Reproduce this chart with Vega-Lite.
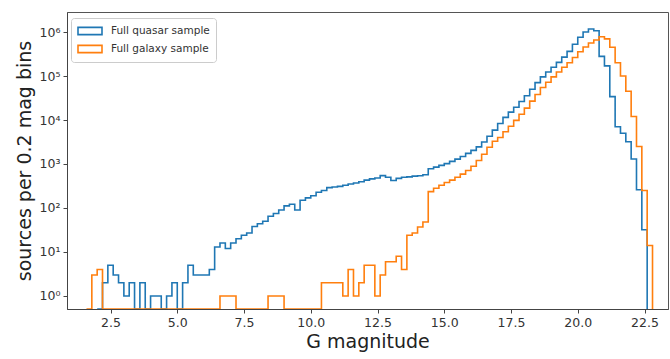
{
  "$schema": "https://vega.github.io/schema/vega-lite/v6.json",
  "width": 601,
  "height": 297,
  "autosize": {"type": "none"},
  "padding": {"left": 67, "top": 12, "right": 2, "bottom": 50},
  "config": {
    "font": "DejaVu Sans",
    "view": {"stroke": "#555", "strokeWidth": 1},
    "axis": {"grid": false, "domainColor": "#444", "tickColor": "#444", "labelColor": "#333", "titleColor": "#222", "titleFontWeight": "normal", "tickSize": 4, "labelFontSize": 12.5, "titleFontSize": 19}
  },
  "data": {"values": [
    {"series": "Full quasar sample", "g": 2.0, "n": 0},
    {"series": "Full quasar sample", "g": 2.2, "n": 2},
    {"series": "Full quasar sample", "g": 2.4, "n": 5},
    {"series": "Full quasar sample", "g": 2.6, "n": 3},
    {"series": "Full quasar sample", "g": 2.8, "n": 2},
    {"series": "Full quasar sample", "g": 3.0, "n": 1},
    {"series": "Full quasar sample", "g": 3.2, "n": 2},
    {"series": "Full quasar sample", "g": 3.4, "n": 0},
    {"series": "Full quasar sample", "g": 3.6, "n": 2},
    {"series": "Full quasar sample", "g": 3.8, "n": 0},
    {"series": "Full quasar sample", "g": 4.0, "n": 1},
    {"series": "Full quasar sample", "g": 4.2, "n": 1},
    {"series": "Full quasar sample", "g": 4.4, "n": 0},
    {"series": "Full quasar sample", "g": 4.6, "n": 1},
    {"series": "Full quasar sample", "g": 4.8, "n": 2},
    {"series": "Full quasar sample", "g": 5.0, "n": 0},
    {"series": "Full quasar sample", "g": 5.2, "n": 2},
    {"series": "Full quasar sample", "g": 5.4, "n": 5},
    {"series": "Full quasar sample", "g": 5.6, "n": 3},
    {"series": "Full quasar sample", "g": 5.8, "n": 3},
    {"series": "Full quasar sample", "g": 6.0, "n": 3},
    {"series": "Full quasar sample", "g": 6.2, "n": 4},
    {"series": "Full quasar sample", "g": 6.4, "n": 13},
    {"series": "Full quasar sample", "g": 6.6, "n": 16},
    {"series": "Full quasar sample", "g": 6.8, "n": 12},
    {"series": "Full quasar sample", "g": 7.0, "n": 16},
    {"series": "Full quasar sample", "g": 7.2, "n": 20},
    {"series": "Full quasar sample", "g": 7.4, "n": 24},
    {"series": "Full quasar sample", "g": 7.6, "n": 27},
    {"series": "Full quasar sample", "g": 7.8, "n": 38},
    {"series": "Full quasar sample", "g": 8.0, "n": 44},
    {"series": "Full quasar sample", "g": 8.2, "n": 50},
    {"series": "Full quasar sample", "g": 8.4, "n": 65},
    {"series": "Full quasar sample", "g": 8.6, "n": 75},
    {"series": "Full quasar sample", "g": 8.8, "n": 90},
    {"series": "Full quasar sample", "g": 9.0, "n": 112},
    {"series": "Full quasar sample", "g": 9.2, "n": 122},
    {"series": "Full quasar sample", "g": 9.4, "n": 90},
    {"series": "Full quasar sample", "g": 9.6, "n": 150},
    {"series": "Full quasar sample", "g": 9.8, "n": 170},
    {"series": "Full quasar sample", "g": 10.0, "n": 190},
    {"series": "Full quasar sample", "g": 10.2, "n": 228},
    {"series": "Full quasar sample", "g": 10.4, "n": 250},
    {"series": "Full quasar sample", "g": 10.6, "n": 290},
    {"series": "Full quasar sample", "g": 10.8, "n": 300},
    {"series": "Full quasar sample", "g": 11.0, "n": 310},
    {"series": "Full quasar sample", "g": 11.2, "n": 330},
    {"series": "Full quasar sample", "g": 11.4, "n": 350},
    {"series": "Full quasar sample", "g": 11.6, "n": 370},
    {"series": "Full quasar sample", "g": 11.8, "n": 395},
    {"series": "Full quasar sample", "g": 12.0, "n": 430},
    {"series": "Full quasar sample", "g": 12.2, "n": 460},
    {"series": "Full quasar sample", "g": 12.4, "n": 480},
    {"series": "Full quasar sample", "g": 12.6, "n": 545},
    {"series": "Full quasar sample", "g": 12.8, "n": 500},
    {"series": "Full quasar sample", "g": 13.0, "n": 420},
    {"series": "Full quasar sample", "g": 13.2, "n": 470},
    {"series": "Full quasar sample", "g": 13.4, "n": 500},
    {"series": "Full quasar sample", "g": 13.6, "n": 510},
    {"series": "Full quasar sample", "g": 13.8, "n": 530},
    {"series": "Full quasar sample", "g": 14.0, "n": 540},
    {"series": "Full quasar sample", "g": 14.2, "n": 570},
    {"series": "Full quasar sample", "g": 14.4, "n": 780},
    {"series": "Full quasar sample", "g": 14.6, "n": 850},
    {"series": "Full quasar sample", "g": 14.8, "n": 930},
    {"series": "Full quasar sample", "g": 15.0, "n": 1020},
    {"series": "Full quasar sample", "g": 15.2, "n": 1150},
    {"series": "Full quasar sample", "g": 15.4, "n": 1290},
    {"series": "Full quasar sample", "g": 15.6, "n": 1480},
    {"series": "Full quasar sample", "g": 15.8, "n": 1740},
    {"series": "Full quasar sample", "g": 16.0, "n": 2040},
    {"series": "Full quasar sample", "g": 16.2, "n": 2450},
    {"series": "Full quasar sample", "g": 16.4, "n": 3160},
    {"series": "Full quasar sample", "g": 16.6, "n": 4270},
    {"series": "Full quasar sample", "g": 16.8, "n": 5890},
    {"series": "Full quasar sample", "g": 17.0, "n": 8300},
    {"series": "Full quasar sample", "g": 17.2, "n": 11500},
    {"series": "Full quasar sample", "g": 17.4, "n": 15100},
    {"series": "Full quasar sample", "g": 17.6, "n": 19500},
    {"series": "Full quasar sample", "g": 17.8, "n": 26300},
    {"series": "Full quasar sample", "g": 18.0, "n": 35500},
    {"series": "Full quasar sample", "g": 18.2, "n": 50100},
    {"series": "Full quasar sample", "g": 18.4, "n": 70800},
    {"series": "Full quasar sample", "g": 18.6, "n": 95500},
    {"series": "Full quasar sample", "g": 18.8, "n": 123000},
    {"series": "Full quasar sample", "g": 19.0, "n": 158000},
    {"series": "Full quasar sample", "g": 19.2, "n": 204000},
    {"series": "Full quasar sample", "g": 19.4, "n": 269000},
    {"series": "Full quasar sample", "g": 19.6, "n": 363000},
    {"series": "Full quasar sample", "g": 19.8, "n": 525000},
    {"series": "Full quasar sample", "g": 20.0, "n": 759000},
    {"series": "Full quasar sample", "g": 20.2, "n": 1000000},
    {"series": "Full quasar sample", "g": 20.4, "n": 1175000},
    {"series": "Full quasar sample", "g": 20.6, "n": 1070000},
    {"series": "Full quasar sample", "g": 20.8, "n": 280000},
    {"series": "Full quasar sample", "g": 21.0, "n": 170000},
    {"series": "Full quasar sample", "g": 21.2, "n": 34000},
    {"series": "Full quasar sample", "g": 21.4, "n": 7000},
    {"series": "Full quasar sample", "g": 21.6, "n": 5000},
    {"series": "Full quasar sample", "g": 21.8, "n": 3200},
    {"series": "Full quasar sample", "g": 22.0, "n": 1300},
    {"series": "Full quasar sample", "g": 22.2, "n": 260},
    {"series": "Full quasar sample", "g": 22.4, "n": 32},
    {"series": "Full quasar sample", "g": 22.6, "n": 0},
    {"series": "Full galaxy sample", "g": 1.6, "n": 0},
    {"series": "Full galaxy sample", "g": 1.8, "n": 3},
    {"series": "Full galaxy sample", "g": 2.0, "n": 4},
    {"series": "Full galaxy sample", "g": 2.2, "n": 0},
    {"series": "Full galaxy sample", "g": 2.4, "n": 0},
    {"series": "Full galaxy sample", "g": 2.6, "n": 0},
    {"series": "Full galaxy sample", "g": 2.8, "n": 0},
    {"series": "Full galaxy sample", "g": 3.0, "n": 0},
    {"series": "Full galaxy sample", "g": 3.2, "n": 0},
    {"series": "Full galaxy sample", "g": 3.4, "n": 0},
    {"series": "Full galaxy sample", "g": 3.6, "n": 0},
    {"series": "Full galaxy sample", "g": 3.8, "n": 0},
    {"series": "Full galaxy sample", "g": 4.0, "n": 0},
    {"series": "Full galaxy sample", "g": 4.2, "n": 0},
    {"series": "Full galaxy sample", "g": 4.4, "n": 0},
    {"series": "Full galaxy sample", "g": 4.6, "n": 0},
    {"series": "Full galaxy sample", "g": 4.8, "n": 0},
    {"series": "Full galaxy sample", "g": 5.0, "n": 0},
    {"series": "Full galaxy sample", "g": 5.2, "n": 0},
    {"series": "Full galaxy sample", "g": 5.4, "n": 0},
    {"series": "Full galaxy sample", "g": 5.6, "n": 0},
    {"series": "Full galaxy sample", "g": 5.8, "n": 0},
    {"series": "Full galaxy sample", "g": 6.0, "n": 0},
    {"series": "Full galaxy sample", "g": 6.2, "n": 0},
    {"series": "Full galaxy sample", "g": 6.4, "n": 0},
    {"series": "Full galaxy sample", "g": 6.6, "n": 1},
    {"series": "Full galaxy sample", "g": 6.8, "n": 1},
    {"series": "Full galaxy sample", "g": 7.0, "n": 1},
    {"series": "Full galaxy sample", "g": 7.2, "n": 0},
    {"series": "Full galaxy sample", "g": 7.4, "n": 0},
    {"series": "Full galaxy sample", "g": 7.6, "n": 0},
    {"series": "Full galaxy sample", "g": 7.8, "n": 0},
    {"series": "Full galaxy sample", "g": 8.0, "n": 0},
    {"series": "Full galaxy sample", "g": 8.2, "n": 0},
    {"series": "Full galaxy sample", "g": 8.4, "n": 1},
    {"series": "Full galaxy sample", "g": 8.6, "n": 1},
    {"series": "Full galaxy sample", "g": 8.8, "n": 1},
    {"series": "Full galaxy sample", "g": 9.0, "n": 0},
    {"series": "Full galaxy sample", "g": 9.2, "n": 0},
    {"series": "Full galaxy sample", "g": 9.4, "n": 0},
    {"series": "Full galaxy sample", "g": 9.6, "n": 0},
    {"series": "Full galaxy sample", "g": 9.8, "n": 0},
    {"series": "Full galaxy sample", "g": 10.0, "n": 0},
    {"series": "Full galaxy sample", "g": 10.2, "n": 0},
    {"series": "Full galaxy sample", "g": 10.4, "n": 2},
    {"series": "Full galaxy sample", "g": 10.6, "n": 2},
    {"series": "Full galaxy sample", "g": 10.8, "n": 2},
    {"series": "Full galaxy sample", "g": 11.0, "n": 2},
    {"series": "Full galaxy sample", "g": 11.2, "n": 1},
    {"series": "Full galaxy sample", "g": 11.4, "n": 4},
    {"series": "Full galaxy sample", "g": 11.6, "n": 1},
    {"series": "Full galaxy sample", "g": 11.8, "n": 2},
    {"series": "Full galaxy sample", "g": 12.0, "n": 5},
    {"series": "Full galaxy sample", "g": 12.2, "n": 5},
    {"series": "Full galaxy sample", "g": 12.4, "n": 1},
    {"series": "Full galaxy sample", "g": 12.6, "n": 3},
    {"series": "Full galaxy sample", "g": 12.8, "n": 6},
    {"series": "Full galaxy sample", "g": 13.0, "n": 6},
    {"series": "Full galaxy sample", "g": 13.2, "n": 8},
    {"series": "Full galaxy sample", "g": 13.4, "n": 4},
    {"series": "Full galaxy sample", "g": 13.6, "n": 24},
    {"series": "Full galaxy sample", "g": 13.8, "n": 27},
    {"series": "Full galaxy sample", "g": 14.0, "n": 37},
    {"series": "Full galaxy sample", "g": 14.2, "n": 48},
    {"series": "Full galaxy sample", "g": 14.4, "n": 235},
    {"series": "Full galaxy sample", "g": 14.6, "n": 280},
    {"series": "Full galaxy sample", "g": 14.8, "n": 330},
    {"series": "Full galaxy sample", "g": 15.0, "n": 380},
    {"series": "Full galaxy sample", "g": 15.2, "n": 430},
    {"series": "Full galaxy sample", "g": 15.4, "n": 500},
    {"series": "Full galaxy sample", "g": 15.6, "n": 590},
    {"series": "Full galaxy sample", "g": 15.8, "n": 710},
    {"series": "Full galaxy sample", "g": 16.0, "n": 890},
    {"series": "Full galaxy sample", "g": 16.2, "n": 1200},
    {"series": "Full galaxy sample", "g": 16.4, "n": 1660},
    {"series": "Full galaxy sample", "g": 16.6, "n": 2400},
    {"series": "Full galaxy sample", "g": 16.8, "n": 3300},
    {"series": "Full galaxy sample", "g": 17.0, "n": 4000},
    {"series": "Full galaxy sample", "g": 17.2, "n": 5400},
    {"series": "Full galaxy sample", "g": 17.4, "n": 7200},
    {"series": "Full galaxy sample", "g": 17.6, "n": 9800},
    {"series": "Full galaxy sample", "g": 17.8, "n": 13500},
    {"series": "Full galaxy sample", "g": 18.0, "n": 18600},
    {"series": "Full galaxy sample", "g": 18.2, "n": 26900},
    {"series": "Full galaxy sample", "g": 18.4, "n": 38000},
    {"series": "Full galaxy sample", "g": 18.6, "n": 55000},
    {"series": "Full galaxy sample", "g": 18.8, "n": 72400},
    {"series": "Full galaxy sample", "g": 19.0, "n": 95500},
    {"series": "Full galaxy sample", "g": 19.2, "n": 123000},
    {"series": "Full galaxy sample", "g": 19.4, "n": 158000},
    {"series": "Full galaxy sample", "g": 19.6, "n": 200000},
    {"series": "Full galaxy sample", "g": 19.8, "n": 263000},
    {"series": "Full galaxy sample", "g": 20.0, "n": 355000},
    {"series": "Full galaxy sample", "g": 20.2, "n": 457000},
    {"series": "Full galaxy sample", "g": 20.4, "n": 562000},
    {"series": "Full galaxy sample", "g": 20.6, "n": 660000},
    {"series": "Full galaxy sample", "g": 20.8, "n": 780000},
    {"series": "Full galaxy sample", "g": 21.0, "n": 700000},
    {"series": "Full galaxy sample", "g": 21.2, "n": 450000},
    {"series": "Full galaxy sample", "g": 21.4, "n": 200000},
    {"series": "Full galaxy sample", "g": 21.6, "n": 100000},
    {"series": "Full galaxy sample", "g": 21.8, "n": 45000},
    {"series": "Full galaxy sample", "g": 22.0, "n": 12000},
    {"series": "Full galaxy sample", "g": 22.2, "n": 2500},
    {"series": "Full galaxy sample", "g": 22.4, "n": 250},
    {"series": "Full galaxy sample", "g": 22.6, "n": 14},
    {"series": "Full galaxy sample", "g": 22.8, "n": 0}
  ]},
  "mark": {"type": "line", "interpolate": "step-after", "strokeWidth": 1.6, "clip": true, "invalid": "show"},
  "encoding": {
    "x": {
      "field": "g", "type": "quantitative", "title": "G magnitude",
      "scale": {"domain": [0.87, 23.38], "nice": false, "zero": false},
      "axis": {"values": [2.5, 5, 7.5, 10, 12.5, 15, 17.5, 20, 22.5], "format": ".1f", "labelPadding": 3, "titlePadding": 4, "labelFlush": false}
    },
    "y": {
      "field": "n", "type": "quantitative", "title": "sources per 0.2 mag bins",
      "scale": {"type": "log", "domain": [0.506, 2850000], "nice": false, "clamp": true},
      "axis": {"values": [1, 10, 100, 1000, 10000, 100000, 1000000], "labelExpr": "'10' + ['⁰','¹','²','³','⁴','⁵','⁶'][round(log(datum.value)/LN10)]", "labelPadding": 3, "titlePadding": 5}
    },
    "color": {
      "field": "series", "type": "nominal", "sort": ["Full quasar sample", "Full galaxy sample"],
      "scale": {"domain": ["Full quasar sample", "Full galaxy sample"], "range": ["#1f77b4", "#ff7f0e"]},
      "legend": {
        "title": null, "orient": "none", "legendX": 4, "legendY": 6,
        "symbolType": "M-2,-0.6H2V0.6H-2Z", "symbolSize": 144, "symbolStrokeWidth": 1.6, "symbolFillColor": "white", "symbolOffset": 6,
        "labelFontSize": 10.5, "labelColor": "#333", "labelOffset": 14, "rowPadding": 4,
        "strokeColor": "#ccc", "fillColor": "white", "cornerRadius": 3, "padding": 6
      }
    }
  }
}
